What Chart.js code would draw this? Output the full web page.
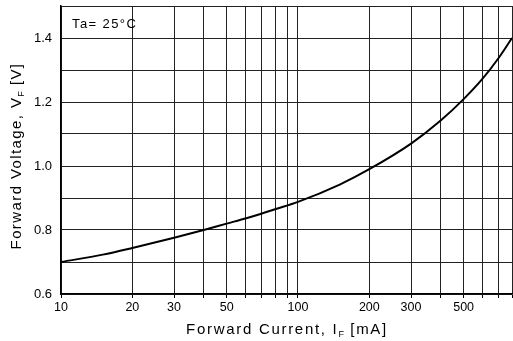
<!DOCTYPE html>
<html>
<head>
<meta charset="utf-8">
<script src="https://cdn.jsdelivr.net/npm/chart.js@4"></script>
<style>
  html, body { margin: 0; padding: 0; background: #fff; }
  #wrap { width: 513px; height: 341px; position: relative; }
</style>
</head>
<body>
<div id="wrap"><canvas id="chart"></canvas></div>
<script>
// forward current (mA) vs forward voltage (V)
const currentMA = [10, 15, 20, 30, 40, 50, 60, 70, 80, 100, 150, 200, 300, 400, 500, 600, 700, 800];
const voltageV = [0.700, 0.723, 0.744, 0.776, 0.800, 0.820, 0.836, 0.851, 0.865, 0.888, 0.942, 0.990, 1.070, 1.142, 1.209, 1.272, 1.336, 1.400];

const xGridValues = [10, 20, 30, 40, 50, 60, 70, 80, 90, 100, 200, 300, 400, 500, 600, 700, 800];
const xLabelValues = [10, 20, 30, 50, 100, 200, 300, 500];
const yLabelValues = ['0.6', '0.8', '1.0', '1.2', '1.4'];

const FONT = '"Liberation Sans", Arial, sans-serif';

// axis titles with subscripts + the Ta note
const textPlugin = {
    id: 'textPlugin',
    afterDraw(chart) {
        const ctx = chart.ctx;
        const a = chart.chartArea;
        ctx.save();
        ctx.fillStyle = '#000';
        ctx.textBaseline = 'alphabetic';

        // Ta note
        ctx.font = '13px ' + FONT;
        ctx.textAlign = 'left';
        ctx.letterSpacing = '1.4px';
        ctx.fillText('Ta= 25°C', 72, 28);

        function drawSub(parts, x, y, spacing) {
            // parts: [text, isSub]
            let total = 0;
            parts.forEach(p => {
                ctx.font = (p[1] ? '9px ' : '15px ') + FONT;
                ctx.letterSpacing = p[1] ? '0.5px' : spacing;
                total += ctx.measureText(p[0]).width;
            });
            let cx = x - total / 2;
            parts.forEach(p => {
                ctx.font = (p[1] ? '9px ' : '15px ') + FONT;
                ctx.letterSpacing = p[1] ? '0.5px' : spacing;
                ctx.fillText(p[0], cx, p[1] ? y + 3 : y);
                cx += ctx.measureText(p[0]).width;
            });
        }

        ctx.textAlign = 'left';
        drawSub([['Forward Current, I', false], ['F', true], [' [mA]', false]], 287, 334, '1.7px');

        ctx.translate(21, (a.top + a.bottom) / 2 + 6);
        ctx.rotate(-Math.PI / 2);
        drawSub([['Forward Voltage, V', false], ['F', true], [' [V]', false]], 0, 0, '1.4px');
        ctx.restore();
    }
};

new Chart(document.getElementById('chart'), {
    type: 'line',
    data: {
        datasets: [{
            data: currentMA.map((c, i) => ({ x: c, y: voltageV[i] })),
            borderColor: '#000',
            borderWidth: 2,
            pointRadius: 0,
            fill: false,
            cubicInterpolationMode: 'monotone'
        }]
    },
    options: {
        responsive: true,
        maintainAspectRatio: false,
        animation: false,
        layout: { padding: { top: 6, right: 1, left: 0, bottom: 0 } },
        plugins: { legend: { display: false }, tooltip: { enabled: false } },
        scales: {
            x: {
                type: 'logarithmic',
                min: 10,
                max: 800,
                afterBuildTicks: s => { s.ticks = xGridValues.map(v => ({ value: v })); },
                afterFit: s => { s.height = 47; s.paddingLeft = 0; s.paddingRight = 0; },
                ticks: {
                    autoSkip: false,
                    maxRotation: 0,
                    padding: 2,
                    color: '#000',
                    font: { family: FONT, size: 12.5 },
                    callback: v => xLabelValues.includes(v) ? String(v) : ''
                },
                grid: { color: '#222', lineWidth: 1, tickLength: 4, tickColor: '#000' },
                border: { color: '#000', width: 1.5 }
            },
            y: {
                type: 'linear',
                min: 0.6,
                max: 1.5,
                afterFit: s => { s.width = 61; s.paddingTop = 0; s.paddingBottom = 0; },
                ticks: {
                    stepSize: 0.1,
                    padding: 9,
                    color: '#000',
                    font: { family: FONT, size: 13 },
                    callback: v => {
                        const t = v.toFixed(1);
                        return yLabelValues.includes(t) ? t : '';
                    }
                },
                grid: { color: '#222', lineWidth: 1, tickLength: 0 },
                border: { color: '#000', width: 1.5 }
            }
        }
    },
    plugins: [textPlugin]
});
</script>
</body>
</html>
